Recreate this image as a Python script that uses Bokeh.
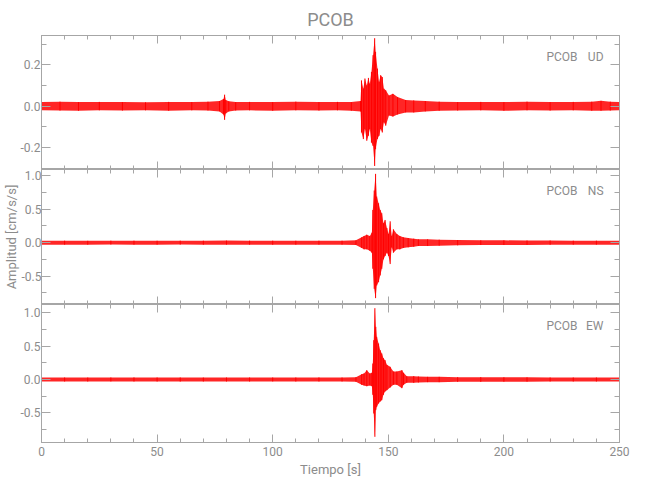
from bokeh.plotting import figure
from bokeh.layouts import column
from bokeh.models import (LinearAxis, SingleIntervalTicker, PrintfTickFormatter,
                          CustomJSTickFormatter, Range1d, Label, ColumnDataSource)
from bokeh.embed import file_html
from bokeh.resources import INLINE

# ---------------- data (envelopes) ----------------
station = "PCOB"
components = ["UD", "NS", "EW"]
x_limits = (0.0, 250.0)
y_limits_ud = (-0.306, 0.342)
y_limits_ns = (-0.925, 1.095)
y_limits_ew = (-0.945, 1.125)

t_ud = [0, 8, 16, 25, 35, 45, 55, 65, 72, 77, 78.7, 79.2, 79.7, 81, 84, 90, 100, 110, 120, 128,
        134, 138.0, 138.4, 139.2, 139.9, 140.7, 141.4, 142.0, 142.7, 143.4, 144.1, 144.5, 145.3,
        146.0, 146.7, 147.4, 148.1, 148.9, 150.3, 152.0, 154.0, 157.5, 161, 166, 172, 180, 190,
        200, 210, 220, 230, 238, 242, 246, 250]
hi_ud = [0.02, 0.022, 0.02, 0.021, 0.02, 0.019, 0.021, 0.02, 0.022, 0.025, 0.035, 0.056, 0.03,
         0.024, 0.02, 0.021, 0.02, 0.022, 0.02, 0.021, 0.02, 0.025, 0.125, 0.085, 0.134, 0.10,
         0.137, 0.109, 0.166, 0.247, 0.329, 0.263, 0.182, 0.117, 0.15, 0.141, 0.085, 0.077, 0.052,
         0.06, 0.044, 0.03, 0.028, 0.025, 0.022, 0.02, 0.021, 0.02, 0.022, 0.02, 0.021, 0.022,
         0.026, 0.022, 0.02]
lo_ud = [-0.02, -0.021, -0.022, -0.02, -0.021, -0.02, -0.022, -0.02, -0.021, -0.025, -0.04, -0.066,
         -0.035, -0.025, -0.021, -0.02, -0.022, -0.02, -0.021, -0.02, -0.022, -0.025, -0.127,
         -0.159, -0.11, -0.167, -0.143, -0.11, -0.176, -0.192, -0.289, -0.208, -0.159, -0.143,
         -0.11, -0.127, -0.078, -0.094, -0.045, -0.05, -0.04, -0.03, -0.03, -0.025, -0.022,
         -0.021, -0.02, -0.022, -0.02, -0.021, -0.02, -0.022, -0.022, -0.021, -0.02]

t_ns = [0, 10, 20, 30, 40, 50, 60, 70, 80, 90, 100, 110, 120, 130, 136, 138.5, 139.5, 140.7,
        142.0, 142.9, 143.3, 143.9, 144.5, 145.0, 145.8, 146.5, 147.2, 147.9, 148.6, 149.4, 150.1,
        150.8, 151.5, 152.2, 153.7, 155.0, 156.5, 158.6, 161, 163, 167, 172, 180, 190, 200, 210,
        220, 230, 240, 250]
hi_ns = [0.03, 0.03, 0.028, 0.03, 0.03, 0.029, 0.03, 0.03, 0.031, 0.03, 0.03, 0.029, 0.03, 0.03,
         0.035, 0.08, 0.1, 0.12, 0.1, 0.15, 0.49, 0.78, 1.03, 0.69, 0.59, 0.49, 0.44, 0.29, 0.34,
         0.22, 0.13, 0.32, 0.1, 0.2, 0.13, 0.1, 0.08, 0.07, 0.06, 0.05, 0.05, 0.045, 0.04, 0.035,
         0.035, 0.033, 0.032, 0.03, 0.03, 0.03]
lo_ns = [-0.03, -0.03, -0.03, -0.028, -0.03, -0.03, -0.029, -0.03, -0.03, -0.03, -0.031, -0.03,
         -0.03, -0.03, -0.035, -0.08, -0.1, -0.1, -0.12, -0.15, -0.39, -0.69, -0.83, -0.64, -0.59,
         -0.49, -0.39, -0.25, -0.2, -0.15, -0.2, -0.32, -0.07, -0.15, -0.1, -0.1, -0.08, -0.07,
         -0.06, -0.05, -0.05, -0.045, -0.04, -0.035, -0.035, -0.033, -0.032, -0.03, -0.03, -0.03]

t_ew = [0, 10, 20, 30, 40, 50, 60, 70, 80, 90, 100, 110, 120, 130, 136, 138.5, 139.5, 140.7,
        142.0, 142.9, 143.3, 143.7, 144.2, 144.6, 145.0, 145.8, 146.5, 147.2, 147.9, 148.6, 149.4,
        150.8, 152.2, 153.7, 155.9, 156.6, 158.0, 161, 163, 167, 172, 180, 190, 200, 210, 220,
        230, 240, 250]
hi_ew = [0.03, 0.03, 0.029, 0.03, 0.031, 0.03, 0.03, 0.029, 0.03, 0.03, 0.03, 0.03, 0.031, 0.03,
         0.035, 0.08, 0.09, 0.14, 0.09, 0.1, 0.24, 0.59, 1.07, 0.79, 0.64, 0.54, 0.44, 0.39, 0.32,
         0.29, 0.22, 0.19, 0.12, 0.12, 0.14, 0.1, 0.05, 0.05, 0.045, 0.04, 0.04, 0.035, 0.035,
         0.033, 0.032, 0.03, 0.03, 0.03, 0.03]
lo_ew = [-0.03, -0.03, -0.03, -0.029, -0.03, -0.03, -0.031, -0.03, -0.03, -0.03, -0.029, -0.03,
         -0.03, -0.03, -0.035, -0.08, -0.09, -0.1, -0.09, -0.1, -0.23, -0.51, -0.86, -0.46, -0.41,
         -0.36, -0.33, -0.31, -0.23, -0.18, -0.16, -0.12, -0.08, -0.08, -0.13, -0.08, -0.05,
         -0.05, -0.045, -0.04, -0.04, -0.035, -0.035, -0.033, -0.032, -0.03, -0.03, -0.03, -0.03]

# ---------------- styling ----------------
GRAY = "#8c8c8c"
AXC = "#a6a6a6"
RED = "#ff0000"
FONT = "Roboto"
FRAME_W = 578

panels = [
    (components[0], t_ud, hi_ud, lo_ud, y_limits_ud, 0.2, 134),
    (components[1], t_ns, hi_ns, lo_ns, y_limits_ns, 0.5, 135),
    (components[2], t_ew, hi_ew, lo_ew, y_limits_ew, 0.5, 138),
]

blank = CustomJSTickFormatter(code="return '';")


def style_axis(ax, major_in, minor_in, labels=True):
    ax.axis_line_color = AXC
    ax.major_tick_line_color = AXC
    ax.minor_tick_line_color = AXC
    ax.major_tick_out = 0
    ax.minor_tick_out = 0
    ax.major_tick_in = major_in
    ax.minor_tick_in = minor_in
    if labels:
        ax.major_label_text_color = GRAY
        ax.major_label_text_font = FONT
        ax.major_label_text_font_size = "12px"
    else:
        ax.formatter = blank
        ax.major_label_text_font_size = "0px"
        ax.major_label_standoff = 0


figs = []
xr = Range1d(*x_limits)
for i, (comp, t, hi, lo, ylim, yint, fh) in enumerate(panels):
    first = i == 0
    last = i == len(panels) - 1
    p = figure(frame_width=FRAME_W, frame_height=fh, x_range=xr,
               y_range=Range1d(*ylim), output_backend="svg", toolbar_location=None,
               x_axis_location=None, y_axis_location=None,
               min_border_left=40, min_border_right=16,
               min_border_top=33 if first else 0,
               min_border_bottom=40 if last else 0,
               title=station if first else None)
    p.grid.visible = False
    p.outline_line_color = AXC
    if first:
        p.title.align = "center"
        p.title.text_font = FONT
        p.title.text_font_size = "18px"
        p.title.text_font_style = "normal"
        p.title.text_color = GRAY
        p.title.standoff = 12

    # y axes
    yl = LinearAxis(ticker=SingleIntervalTicker(interval=yint, num_minor_ticks=2),
                    formatter=PrintfTickFormatter(format="%.1f"))
    style_axis(yl, 9, 5)
    yl.major_label_standoff = 1
    if i == 1:
        yl.axis_label = "Amplitud [cm/s/s]"
        yl.axis_label_text_font = FONT
        yl.axis_label_text_font_size = "13px"
        yl.axis_label_text_font_style = "normal"
        yl.axis_label_text_color = GRAY
        yl.axis_label_text_line_height = 0.75
        yl.axis_label_standoff = 0
        yl.major_label_standoff = 0
    p.add_layout(yl, "left")
    yr = LinearAxis(ticker=SingleIntervalTicker(interval=yint, num_minor_ticks=2))
    style_axis(yr, 9, 5, labels=False)
    p.add_layout(yr, "right")

    # x axes
    xb = LinearAxis(ticker=SingleIntervalTicker(interval=50, num_minor_ticks=5),
                    formatter=PrintfTickFormatter(format="%d"))
    style_axis(xb, 8, 4, labels=last)
    if last:
        xb.major_label_standoff = 4
        xb.axis_label = "Tiempo [s]"
        xb.axis_label_text_font = FONT
        xb.axis_label_text_font_size = "13px"
        xb.axis_label_text_font_style = "normal"
        xb.axis_label_text_color = GRAY
        xb.axis_label_standoff = 3
    p.add_layout(xb, "below")
    xa = LinearAxis(ticker=SingleIntervalTicker(interval=50, num_minor_ticks=5))
    style_axis(xa, 8, 4, labels=False)
    p.add_layout(xa, "above")

    src = ColumnDataSource(dict(t=t, hi=hi, lo=lo))
    p.varea(x="t", y1="lo", y2="hi", source=src, fill_color=RED, fill_alpha=0.85)
    p.segment(x0="t", y0="lo", x1="t", y1="hi", source=src, line_color=RED, line_width=1)

    # component labels
    x0, x1 = x_limits
    y0, y1 = ylim
    ly = y1 - (y1 - y0) * 21.0 / fh
    p.add_layout(Label(x=x1 - (x1 - x0) * 42.0 / FRAME_W, y=ly, text=station,
                       text_align="right", text_baseline="middle", text_color=GRAY,
                       text_font=FONT, text_font_size="12px"))
    p.add_layout(Label(x=x1 - (x1 - x0) * 16.0 / FRAME_W, y=ly, text=comp,
                       text_align="right", text_baseline="middle", text_color=GRAY,
                       text_font=FONT, text_font_size="12px"))
    figs.append(p)

layout = column(*figs, spacing=0)
open("out.html", "w").write(file_html(layout, INLINE))
